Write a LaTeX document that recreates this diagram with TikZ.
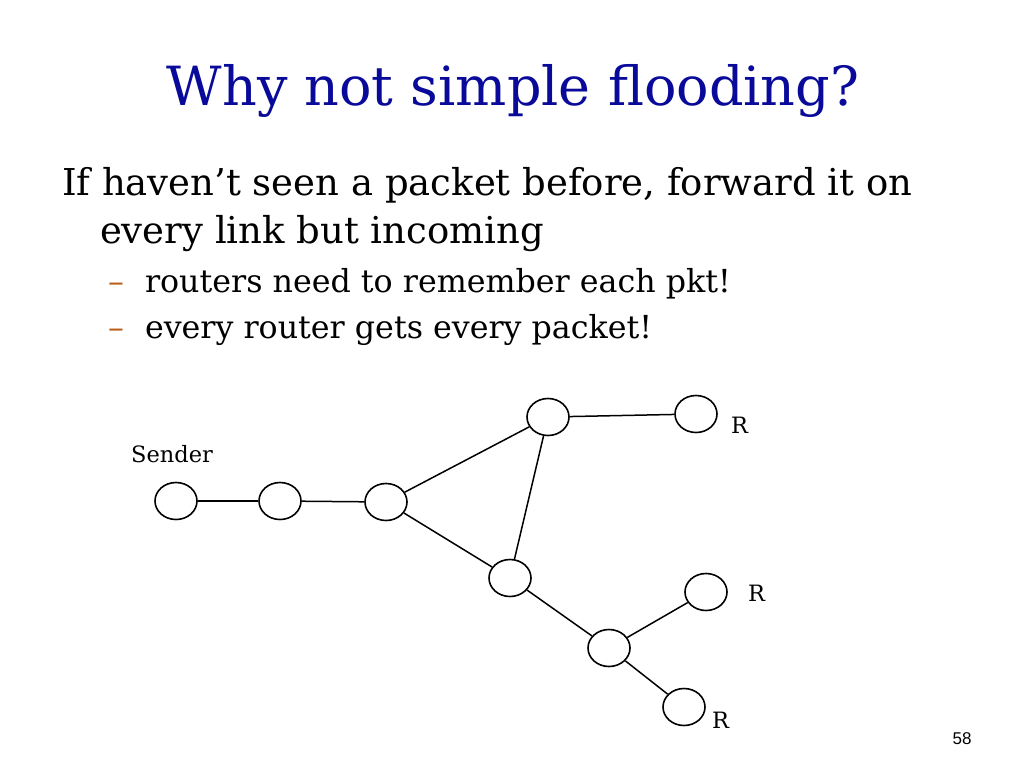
\documentclass[tikz,border=0pt]{standalone}
\usepackage{fontspec}
\setmainfont{DejaVu Serif}
\setsansfont{Liberation Sans}
\usetikzlibrary{shapes.geometric}
\definecolor{titleblue}{HTML}{0A0A9A}
\definecolor{dashorange}{HTML}{B8601E}
\tikzset{
  rnode/.style={draw, ellipse, line width=1.6pt, minimum width=42pt, minimum height=37pt, inner sep=0pt},
  link/.style={line width=1.5pt},
  txt/.style={anchor=base west, inner sep=0pt, outer sep=0pt},
  lbl/.style={anchor=base west, inner sep=0pt, font=\fontsize{22.5}{26}\selectfont}
}
\begin{document}
\begin{tikzpicture}[x=1pt,y=-1pt]
\useasboundingbox (0,0) rectangle (1024,768);
\node[anchor=base, inner sep=0pt, text=titleblue, font=\fontsize{54}{60}\selectfont] (title) at (513,105) {Why not simple flooding?};
\node[txt, font=\fontsize{37}{44}\selectfont] (l1) at (62,195) {If haven’t seen a packet before, forward it on};
\node[txt, font=\fontsize{37}{44}\selectfont] (l2) at (100,243) {every link but incoming};
\node[txt, text=dashorange, font=\fontsize{31.7}{36}\selectfont] (d1) at (108,292) {–};
\node[txt, font=\fontsize{31.7}{36}\selectfont] (b1) at (145,292) {routers need to remember each pkt!};
\node[txt, text=dashorange, font=\fontsize{31.7}{36}\selectfont] (d2) at (108,338) {–};
\node[txt, font=\fontsize{31.7}{36}\selectfont] (b2) at (145,338) {every router gets every packet!};

\node[rnode] (s) at (176,501) {};
\node[rnode] (a) at (280,501) {};
\node[rnode] (b) at (386,502) {};
\node[rnode] (c) at (548,417) {};
\node[rnode] (r1) at (696,414) {};
\node[rnode] (d) at (510,578) {};
\node[rnode] (e) at (609,648) {};
\node[rnode] (r2) at (706,592) {};
\node[rnode] (r3) at (684,707) {};

\draw[link] (s) -- (a);
\draw[link] (a) -- (b);
\draw[link] (b) -- (c);
\draw[link] (b) -- (d);
\draw[link] (c) -- (r1);
\draw[link] (c) -- (d);
\draw[link] (d) -- (e);
\draw[link] (e) -- (r2);
\draw[link] (e) -- (r3);

\node[lbl] (sl) at (131,462) {Sender};
\node[lbl] (rl1) at (731,433) {R};
\node[lbl] (rl2) at (748,601) {R};
\node[lbl] (rl3) at (712,728) {R};
\node[anchor=base, inner sep=0pt, font=\sffamily\fontsize{17}{20}\selectfont] (pg) at (962,744) {58};
\end{tikzpicture}
\end{document}
